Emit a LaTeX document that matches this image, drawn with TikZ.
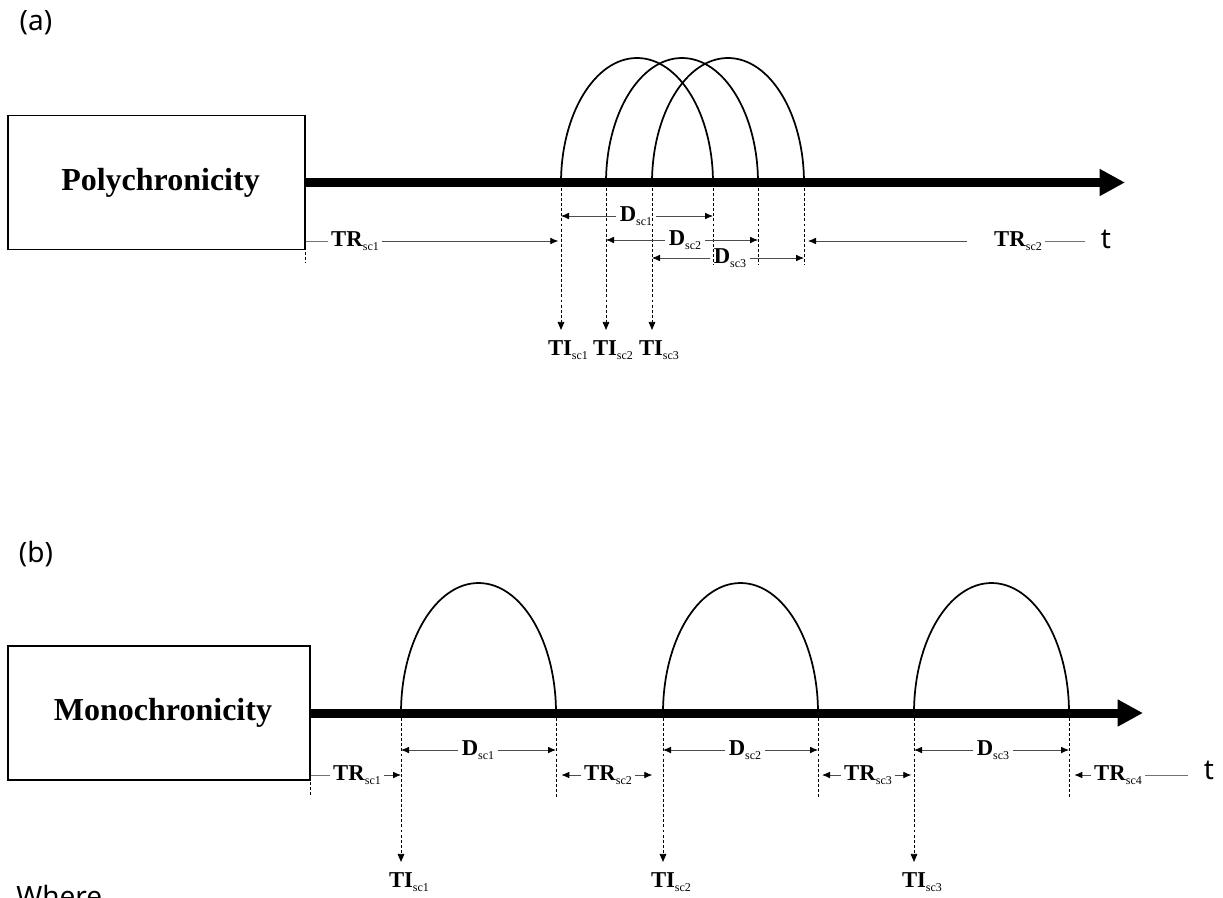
\documentclass[tikz,border=0pt]{standalone}
\usepackage{fontspec}
\setmainfont{Liberation Serif}
\newfontfamily\uisans{Noto Sans}
\usetikzlibrary{arrows.meta}
\newcommand{\tsub}[2]{\textbf{#1}{\fontsize{9}{10}\selectfont\raisebox{-3.5pt}{#2}}}

\begin{document}
\begin{tikzpicture}[x=0.75pt, y=-0.75pt,
		box/.style = {draw, line width=1.1pt, inner sep=0pt, font=\fontsize{24}{28}\selectfont\bfseries},
		lab/.style = {inner sep=2.5pt, font=\fontsize{17}{19}\selectfont},
		tag/.style = {inner sep=0pt, font=\uisans\fontsize{21}{24}\selectfont},
		axis/.style = {line width=6.75pt, -{Triangle[length=19pt, width=19pt]}},
		arch/.style = {line width=1.3pt},
		guide/.style = {dash pattern=on 2.2pt off 1.6pt, line width=0.6pt},
		drop/.style = {guide, -{Triangle[length=6pt, width=5pt]}, shorten >=5pt},
		dim/.style = {line width=0.6pt, black!70, -{Latex[length=6pt, width=5pt, black]}},
		rule/.style = {line width=0.6pt, black!55}]
	\useasboundingbox (0,0) rectangle (1223,897);

	% (a) polychronicity
	\node[tag] (taga) at (36,23) {(a)};
	\node[box, minimum width=222.75pt, minimum height=100.5pt] (poly) at (156.5,182.5) {\hspace{6pt}Polychronicity};
	\coordinate (tipa) at (1125,182.5);
	\foreach \s [count=\i] in {561,606,652} {
		\coordinate (p\i) at (\s,183);
		\coordinate (q\i) at (\s+152,183);
		\draw[arch] (p\i) arc[start angle=180, end angle=360, x radius=76, y radius=125];
		\draw[guide] (q\i) -- ++(0,82);
		\node[lab] (ti\i) at (\s+7,350) {\tsub{TI}{sc\i}};
		\draw[drop] (p\i) -- (p\i |- ti\i.north);
	}
	\draw[axis] (poly.east) -- (tipa);
	\draw[guide] (poly.north east) -- ++(0,147);
	\foreach \x/\y/\i in {636/216/1, 685/240/2, 730/258/3} {
		\node[lab] (d\i) at (\x,\y) {\tsub{D}{sc\i}};
		\draw[dim] (d\i) -- (d\i -| p\i);
		\draw[dim] (d\i) -- (d\i -| q\i);
	}
	\node[lab] (tra) at (355,241) {\tsub{TR}{sc1}};
	\draw[rule] (tra) -- (tra -| poly.east);
	\draw[dim, shorten >=2pt] (tra) -- (tra -| p1);
	\node[lab] (trb) at (1018,241) {\tsub{TR}{sc2}};
	\draw[dim, shorten <=18pt, shorten >=3pt] (trb) -- (trb -| q3);
	\node[tag] (ta) at (1106,239) {t};
	\draw[rule, shorten >=16pt] (trb) -- (trb -| ta);

	% (b) monochronicity
	\node[tag] (tagb) at (36,554) {(b)};
	\node[box, minimum width=226.5pt, minimum height=100.5pt] (mono) at (159,713) {\hspace{6pt}Monochronicity};
	\coordinate (tipb) at (1143,713);
	\foreach \s [count=\i] in {401,663,914} {
		\coordinate (m\i) at (\s,713);
		\coordinate (n\i) at (\s+155,713);
		\draw[arch] (m\i) arc[start angle=180, end angle=360, x radius=77.5, y radius=130];
		\draw[guide] (n\i) -- ++(0,84);
		\node[lab] (tj\i) at (\s+8,882) {\tsub{TI}{sc\i}};
		\draw[drop] (m\i) -- (m\i |- tj\i.north);
	}
	\draw[axis] (mono.east) -- (tipb);
	\draw[guide] (mono.north east) -- ++(0,151);
	\foreach \x/\i in {478/1, 745/2, 993/3} {
		\node[lab] (e\i) at (\x,750) {\tsub{D}{sc\i}};
		\draw[dim] (e\i) -- (e\i -| m\i);
		\draw[dim] (e\i) -- (e\i -| n\i);
	}
	\node[lab] (trc) at (357,775) {\tsub{TR}{sc1}};
	\draw[rule] (trc) -- (trc -| mono.east);
	\draw[dim] (trc) -- (trc -| m1);
	\node[lab] (trd) at (608,775) {\tsub{TR}{sc2}};
	\draw[dim, shorten >=4pt] (trd) -- (trd -| n1);
	\draw[dim, shorten >=8pt] (trd) -- (trd -| m2);
	\node[lab] (tre) at (868,775) {\tsub{TR}{sc3}};
	\draw[dim, shorten >=3pt] (tre) -- (tre -| n2);
	\draw[dim, shorten >=2pt] (tre) -- (tre -| m3);
	\node[lab] (trf) at (1118,775) {\tsub{TR}{sc4}};
	\draw[dim, shorten >=4pt] (trf) -- (trf -| n3);
	\node[tag] (tb) at (1209,770) {t};
	\draw[rule, shorten >=16pt] (trf) -- (trf -| tb);

	\node[tag, anchor=base west] (where) at (16,906) {Where};
\end{tikzpicture}
\end{document}
